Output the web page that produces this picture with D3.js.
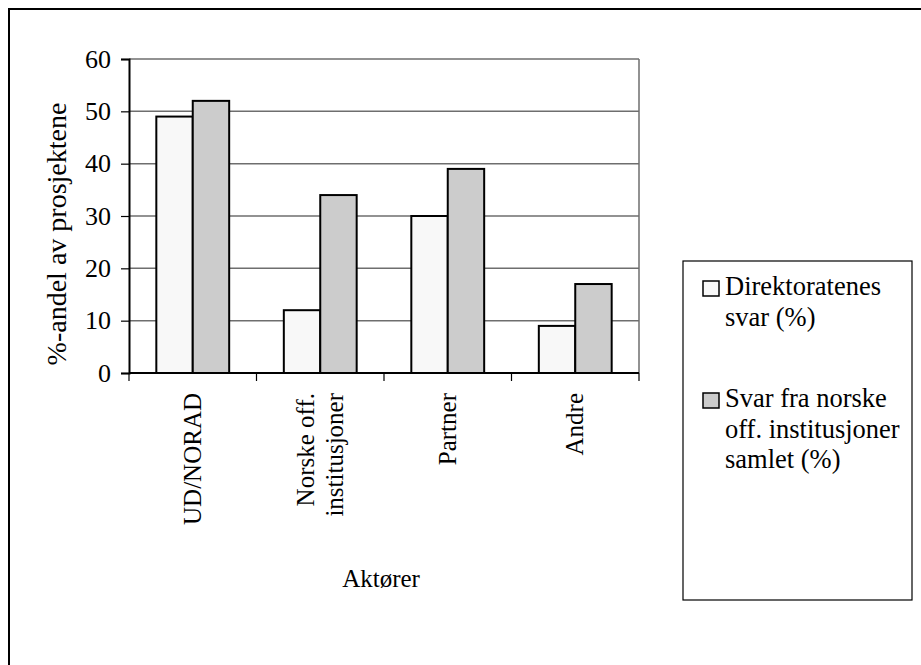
<!DOCTYPE html>
<html>
<head>
<meta charset="utf-8">
<script src="https://cdn.jsdelivr.net/npm/d3@7"></script>
</head>
<body style="margin:0">
<svg id="chart" width="921" height="665"></svg>
<script>
// Actors and answer shares (%)
const categories = ["UD/NORAD", "Norske off.\ninstitusjoner", "Partner", "Andre"];
const seriesNames = ["Direktoratenes svar (%)", "Svar fra norske off. institusjoner samlet (%)"];
const direktoratene = [49, 12, 30, 9];
const institusjoner = [52, 34, 39, 17];
const yTicks = [0, 10, 20, 30, 40, 50, 60];
const legendLines = [["Direktoratenes", "svar (%)"], ["Svar fra norske", "off. institusjoner", "samlet  (%)"]];
const seriesColors = ["#f8f8f8", "#cccccc"];

const FONT = "Liberation Serif";

const svg = d3.select("#chart");

// every text element carries its own font settings
function label(sel, size = 25) {
  return sel.attr("font-family", FONT).attr("font-size", size).attr("fill", "#000");
}

// outer frame (left and top edges visible)
svg.append("rect")
  .attr("x", 9).attr("y", 9).attr("width", 1000).attr("height", 1000)
  .attr("fill", "none").attr("stroke", "#000").attr("stroke-width", 2);

const plot = { left: 129, right: 639, top: 59, bottom: 373 };

const y = d3.scaleLinear().domain([0, 60]).range([plot.bottom, plot.top]);
const gapRatio = 1.5 / 3.5;
const x = d3.scaleBand().domain(categories)
  .range([plot.left, plot.right])
  .paddingInner(gapRatio).paddingOuter(gapRatio / 2);
const xs = d3.scaleBand().domain([0, 1]).range([0, x.bandwidth()]);

// gridlines
svg.append("g").selectAll("line").data(yTicks.filter(d => d > 0)).join("line")
  .attr("x1", plot.left).attr("x2", plot.right)
  .attr("y1", d => y(d)).attr("y2", d => y(d))
  .attr("stroke", "#6e6e6e").attr("stroke-width", 1.5);

// plot area right border
svg.append("line")
  .attr("x1", plot.right).attr("x2", plot.right)
  .attr("y1", plot.top).attr("y2", plot.bottom)
  .attr("stroke", "#6e6e6e").attr("stroke-width", 1.5);

// bars
const rows = categories.map((c, i) => ({ c, vals: [direktoratene[i], institusjoner[i]] }));
const groups = svg.append("g").selectAll("g").data(rows).join("g")
  .attr("transform", d => `translate(${x(d.c)},0)`);
groups.selectAll("rect").data(d => d.vals.map((v, k) => ({ v, k }))).join("rect")
  .attr("x", d => xs(d.k)).attr("width", xs.bandwidth())
  .attr("y", d => y(d.v)).attr("height", d => y(0) - y(d.v))
  .attr("fill", d => seriesColors[d.k])
  .attr("stroke", "#000").attr("stroke-width", 2);

// y axis
const yAxis = svg.append("g").attr("transform", `translate(${plot.left},0)`)
  .call(d3.axisLeft(y).tickValues(yTicks).tickSize(8).tickPadding(10));
yAxis.attr("font-family", FONT).attr("font-size", 26);
yAxis.select(".domain").attr("stroke", "#000").attr("stroke-width", 2);
yAxis.selectAll(".tick line").attr("stroke", "#000").attr("stroke-width", 1.2);
label(yAxis.selectAll(".tick text"), 26);

// x axis baseline and category boundary ticks
svg.append("line")
  .attr("x1", plot.left).attr("x2", plot.right)
  .attr("y1", y(0)).attr("y2", y(0))
  .attr("stroke", "#000").attr("stroke-width", 2);
const step = x.step();
const bounds = d3.range(categories.length + 1).map(i => x(categories[0]) - step * gapRatio / 2 + i * step);
svg.append("g").selectAll("line").data(bounds).join("line")
  .attr("x1", d => d).attr("x2", d => d)
  .attr("y1", y(0)).attr("y2", y(0) + 8)
  .attr("stroke", "#000").attr("stroke-width", 1.2);

// category labels, rotated
const lineGap = 29;
categories.forEach(c => {
  const lines = c.split("\n");
  const cx = x(c) + x.bandwidth() / 2;
  lines.forEach((ln, i) => {
    const bx = cx + 8 + (i - (lines.length - 1) / 2) * lineGap;
    label(svg.append("text"))
      .attr("transform", `translate(${bx},${y(0) + 20}) rotate(-90)`)
      .attr("text-anchor", "end")
      .text(ln);
  });
});

// axis titles
label(svg.append("text"), 28)
  .attr("transform", `translate(66,234) rotate(-90)`)
  .attr("text-anchor", "middle")
  .text("%-andel av prosjektene");

label(svg.append("text"))
  .attr("x", 381).attr("y", 587)
  .attr("text-anchor", "middle")
  .text("Aktører");

// legend
const legend = svg.append("g");
legend.append("rect")
  .attr("x", 683).attr("y", 261).attr("width", 229).attr("height", 339)
  .attr("fill", "#fff").attr("stroke", "#000").attr("stroke-width", 1.2);
const legendTop = [295, 407];
seriesNames.forEach((name, k) => {
  legend.append("rect")
    .attr("x", 703).attr("y", legendTop[k] - 14).attr("width", 16).attr("height", 15)
    .attr("fill", seriesColors[k]).attr("stroke", "#000").attr("stroke-width", 1.5);
  legendLines[k].forEach((ln, i) => {
    label(legend.append("text"), 26.5)
      .attr("x", 725).attr("y", legendTop[k] + i * 30.5)
      .text(ln);
  });
});
</script>
</body>
</html>
